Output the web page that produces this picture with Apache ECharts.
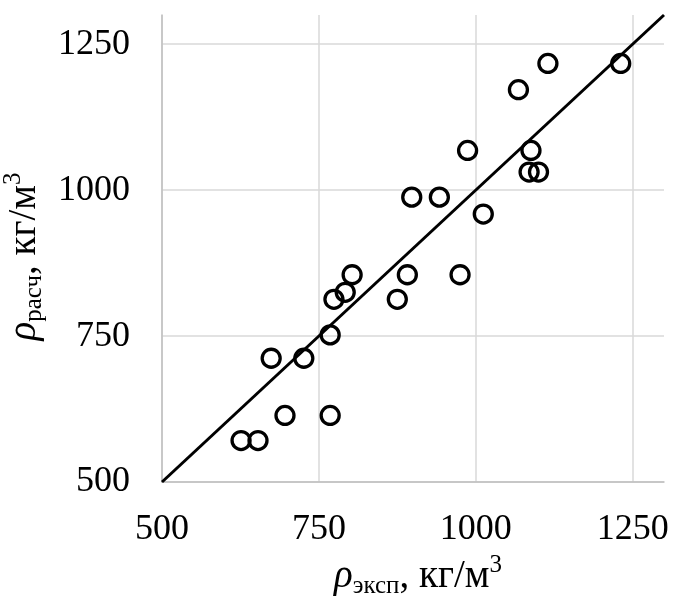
<!DOCTYPE html>
<html>
<head>
<meta charset="utf-8">
<script src="https://cdn.jsdelivr.net/npm/echarts@6/dist/echarts.min.js"></script>
<style>html,body{margin:0;padding:0;background:#fff}#c{width:686px;height:599px}</style>
</head>
<body>
<div id="c"></div>
<script>
// Experimental density (x) vs calculated density (y), kg/m3
const rhoExp = [1115, 1231, 1068, 987, 1088, 1085, 1100, 898, 942, 1012, 803, 891, 975, 792, 774, 875, 768, 674, 726, 696, 768, 626, 653];
const rhoCalc = [1217, 1217, 1172, 1068, 1068, 1031, 1031, 988, 988, 959, 855, 855, 855, 825, 813, 813, 752, 712, 712, 614, 614, 571, 571];
const diagonalX = [500, 1300];
const diagonalY = [500, 1300];
const tickLabels = ['500', '750', '1000', '1250'];

const points = rhoExp.map((x, i) => [x, rhoCalc[i]]);
const diag = diagonalX.map((x, i) => [x, diagonalY[i]]);
const FONT = 'Liberation Serif';

const rich = {
  i: {fontFamily: FONT, fontStyle: 'italic', fontSize: 39, color: '#000'},
  sub: {fontFamily: FONT, fontSize: 25, color: '#000', verticalAlign: 'bottom', padding: [0, 0, -3, 0]},
  n: {fontFamily: FONT, fontSize: 39, color: '#000'},
  sup: {fontFamily: FONT, fontSize: 25, color: '#000', verticalAlign: 'top', padding: [-4, 0, 0, 0]}
};

const chart = echarts.init(document.getElementById('c'), null, {renderer: 'canvas'});
chart.setOption({
  animation: false,
  backgroundColor: '#fff',
  grid: {left: 162, right: 22, top: 15, bottom: 117, containLabel: false, outerBoundsMode: 'none'},
  xAxis: {
    type: 'value', min: 500, max: 1300, interval: 250,
    name: '{i|ρ}{sub|эксп}{n|, кг/м}{sup|3}',
    nameLocation: 'middle', nameGap: 74,
    nameTextStyle: {rich: rich, padding: [0, 0, 0, 10]},
    axisLine: {show: true, lineStyle: {color: '#bfbfbf', width: 1.5}},
    axisTick: {show: false},
    splitLine: {show: true, showMaxLine: false, lineStyle: {color: '#d9d9d9', width: 1.5}},
    axisLabel: {
      fontFamily: FONT, fontSize: 36, color: '#000', margin: 30, showMaxLabel: false,
      formatter: v => tickLabels.includes(String(v)) ? String(v) : ''
    }
  },
  yAxis: {
    type: 'value', min: 500, max: 1300, interval: 250,
    name: '{i|ρ}{sub|расч}{n|, кг/м}{sup|3}',
    nameLocation: 'middle', nameGap: 111,
    nameTextStyle: {rich: rich, padding: [0, 16, 0, 0]},
    axisLine: {show: true, lineStyle: {color: '#bfbfbf', width: 1.5}},
    axisTick: {show: false},
    splitLine: {show: true, showMaxLine: false, lineStyle: {color: '#d9d9d9', width: 1.5}},
    axisLabel: {
      fontFamily: FONT, fontSize: 36, color: '#000', margin: 32, showMaxLabel: false,
      formatter: v => tickLabels.includes(String(v)) ? String(v) : ''
    }
  },
  series: [
    {
      type: 'line', data: diag, symbol: 'none', silent: true,
      lineStyle: {color: '#000', width: 3}, z: 2
    },
    {
      type: 'scatter', data: points, symbol: 'circle', symbolSize: 18,
      itemStyle: {color: 'rgba(0,0,0,0)', borderColor: '#000', borderWidth: 3.3, opacity: 1}, z: 3
    }
  ]
});
</script>
</body>
</html>
